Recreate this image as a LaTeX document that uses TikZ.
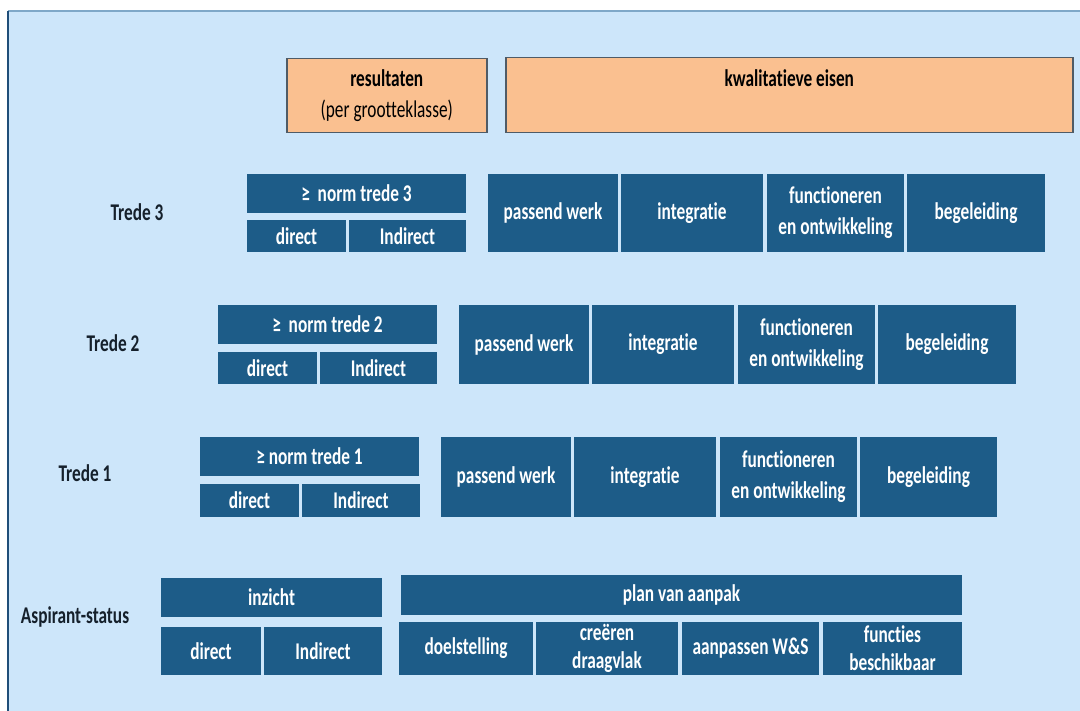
\documentclass[tikz,border=0pt]{standalone}
\usepackage{fontspec}
\setmainfont{Carlito}[FakeStretch=0.72, Ligatures=NoCommon]
\usepackage{tikz}
\definecolor{vakblauw}{HTML}{1D5C88}
\definecolor{achtergrond}{HTML}{CDE6FA}
\definecolor{oranje}{HTML}{FAC090}
\definecolor{oranjerand}{HTML}{4F5B66}
\definecolor{randlijn}{HTML}{7FA8C8}
\definecolor{linkerrand}{HTML}{1F4E79}
\definecolor{labeltekst}{HTML}{15202B}
\tikzset{%
    vak/.style={fill=vakblauw, text=white, inner sep=0pt, outer sep=0pt,
      anchor=north west, align=center,
      font=\fontsize{24}{31}\selectfont\bfseries},
    vakkrap/.style={vak, font=\fontsize{24}{28}\selectfont\bfseries},
    eis/.style={fill=oranje, draw=oranjerand, line width=1.5pt, inner sep=0pt,
      anchor=north west, align=center, text=black,
      font=\fontsize{24}{31}\selectfont},
    trede/.style={text=labeltekst, font=\fontsize{24}{31}\selectfont\bfseries}
}

\begin{document}
\begin{tikzpicture}[x=1pt, y=1pt]
  \useasboundingbox (0,0) rectangle (1080,-711);
  \fill[achtergrond] (8,-11) rectangle (1080,-711);
  \draw[randlijn, line width=1.5pt] (8,-11) -- (1080,-11);
  \draw[linkerrand, line width=2pt] (8,-11) -- (8,-711);

  % kop
  \node[eis, minimum width=200, minimum height=74] (resultaten) at (286,-58)
    {\textbf{resultaten}\\(per grootteklasse)};
  \node[eis, minimum width=567, minimum height=75] (kwalitatief) at (505,-57)
    {\textbf{kwalitatieve eisen}\\\phantom{(per grootteklasse)}};

  % trede 3
  \node[trede] (trede3) at (137,-212) {Trede 3};
  \node[vak, minimum width=219, minimum height=39] (norm3) at (247,-174) {≥\ \ norm trede 3};
  \node[vak, minimum width=99, minimum height=32] (direct3) at (247,-220) {direct};
  \node[vak, minimum width=117, minimum height=32] (indirect3) at (349,-220) {Indirect};
  \node[vak, minimum width=130, minimum height=78] (werk3) at (488,-174) {passend werk};
  \node[vak, minimum width=142, minimum height=78] (integratie3) at (621,-174) {integratie};
  \node[vak, minimum width=137, minimum height=78] (functie3) at (767,-174) {functioneren\\en ontwikkeling};
  \node[vak, minimum width=138, minimum height=78] (begeleiding3) at (907,-174) {begeleiding};

  % trede 2
  \node[trede] (trede2) at (113,-343) {Trede 2};
  \node[vak, minimum width=219, minimum height=39] (norm2) at (218,-305) {≥\ \ norm trede 2};
  \node[vak, minimum width=99, minimum height=32] (direct2) at (218,-352) {direct};
  \node[vak, minimum width=117, minimum height=32] (indirect2) at (320,-352) {Indirect};
  \node[vak, minimum width=130, minimum height=79] (werk2) at (459,-305) {passend werk};
  \node[vak, minimum width=142, minimum height=79] (integratie2) at (592,-305) {integratie};
  \node[vak, minimum width=137, minimum height=79] (functie2) at (738,-305) {functioneren\\en ontwikkeling};
  \node[vak, minimum width=138, minimum height=79] (begeleiding2) at (878,-305) {begeleiding};

  % trede 1
  \node[trede] (trede1) at (85,-473) {Trede 1};
  \node[vak, minimum width=219, minimum height=39] (norm1) at (200,-437) {≥ norm trede 1};
  \node[vak, minimum width=99, minimum height=33] (direct1) at (200,-484) {direct};
  \node[vak, minimum width=118, minimum height=33] (indirect1) at (302,-484) {Indirect};
  \node[vak, minimum width=130, minimum height=80] (werk1) at (441,-437) {passend werk};
  \node[vak, minimum width=142, minimum height=80] (integratie1) at (574,-437) {integratie};
  \node[vak, minimum width=137, minimum height=80] (functie1) at (720,-437) {functioneren\\en ontwikkeling};
  \node[vak, minimum width=137, minimum height=80] (begeleiding1) at (860,-437) {begeleiding};

  % aspirant
  \node[trede] (aspirant) at (75,-617) {Aspirant-status};
  \node[vak, minimum width=221, minimum height=39] (inzicht) at (161,-578) {inzicht};
  \node[vak, minimum width=100, minimum height=48] (directA) at (161,-627) {direct};
  \node[vak, minimum width=118, minimum height=48] (indirectA) at (264,-627) {Indirect};
  \node[vak, minimum width=561, minimum height=40] (plan) at (401,-575) {plan van aanpak};
  \node[vakkrap, minimum width=134, minimum height=53] (doel) at (399,-622) {doelstelling};
  \node[vakkrap, minimum width=142, minimum height=53] (draagvlak) at (536,-622) {creëren\\draagvlak};
  \node[vakkrap, minimum width=137, minimum height=53] (aanpassen) at (682,-622) {aanpassen W\&S};
  \node[vakkrap, minimum width=139, minimum height=53] (functies) at (823,-622) {functies\\beschikbaar};
\end{tikzpicture}
\end{document}
